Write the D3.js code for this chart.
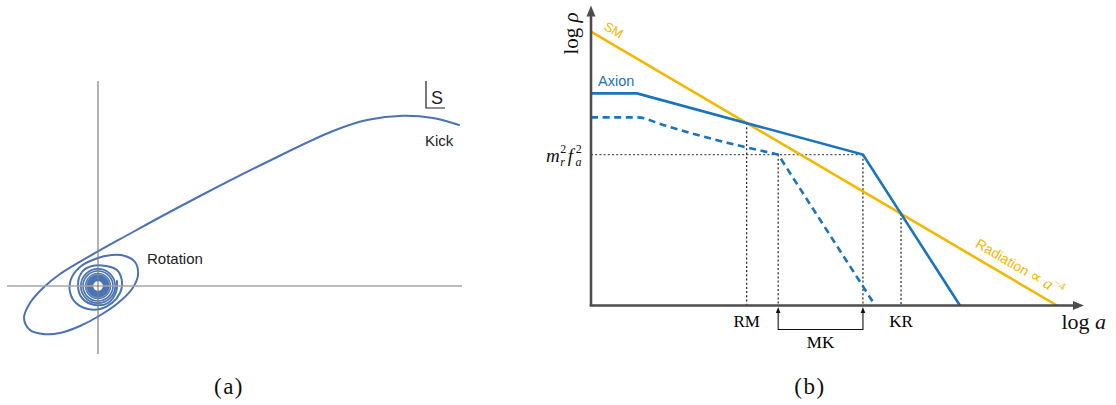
<!DOCTYPE html>
<html>
<head>
<meta charset="utf-8">
<script src="https://cdn.jsdelivr.net/npm/d3@7"></script>
<style>
  body { margin: 0; background: #fff; }
  svg { display: block; }
</style>
</head>
<body>
<svg id="fig" width="1116" height="405"></svg>
<script>
// ---------- (a) field trajectory in the complex plane ----------
// points of the trajectory (Re, Im), from the kick down into the spiral
const trajectory = [
  [36.1, 16.1], [33.5, 16.8], [30.5, 17.03], [26.9, 16.6], [23.5, 15.5],
  [16.9, 12.4], [10.2, 9.0], [3.5, 5.4],
  [-3.8, 1.2], [-5.5, -0.2], [-6.8, -1.7], [-7.4, -3.2], [-6.8, -4.4],
  [-5.5, -4.8], [-3.8, -4.7], [-1.8, -4.0], [0.1, -3.0], [2.0, -1.7],
  [3.4, -0.3], [4.0, 1.1], [3.7, 2.4], [2.7, 3.0], [1.4, 3.1],
  [-0.3, 2.7], [-1.8, 1.9], [-2.7, 0.7], [-2.8, -0.6], [-2.2, -1.7],
  [-1.0, -2.3], [0.2, -2.3], [1.4, -1.7], [2.2, -0.7], [2.4, 0.4],
  [1.9, 1.6], [0.8, 2.0], [-0.6, 2.0], [-1.6, 1.4], [-2.0, 0.1],
  [-1.6, -1.2], [-0.3, -1.9], [1.0, -1.7], [1.8, -0.6], [1.9, 0.5]
];
// tight late-time orbits around the minimum
const innerRings = [1.72, 1.5];
const coreDisc = [0.48, 1.32];   // inner / outer radius of the dense core
const coreGap = 1.18;            // faint gap between the last resolved orbits
const labelsA = ["Rotation", "Kick", "S"];
const captions = ["(a)", "(b)"];

// ---------- (b) energy densities vs scale factor (log-log) ----------
const smRadiation = [[0, 9.13], [9.51, 0]];
const axionKick = [[0, 7.07], [0.94, 7.07], [5.55, 5.03], [7.53, 0]];
const axionStandard = [[0, 6.27], [0.95, 6.27], [1.47, 6.02], [2.16, 5.69],
                       [2.84, 5.4], [3.18, 5.27], [3.82, 5.03]];
const axionStandardDrop = [[3.82, 5.03], [5.80, 0]];
const mrfaLevel = 5.03;
const eraLabels = ["RM", "MK", "KR"];

const svg = d3.select("#fig");
const serif = "'Liberation Serif', 'Times New Roman', 'DejaVu Serif', serif";
const sans = "'Liberation Sans', Arial, Helvetica, sans-serif";

// ===== panel (a) =====
const xA = d3.scaleLinear().domain([-9.1, 36.4]).range([7, 462]);
const yA = d3.scaleLinear().domain([-6.8, 20.5]).range([354, 81]);
const gA = svg.append("g");
const curveBlue = "#4a72b4";
const unitA = xA(1) - xA(0);

gA.append("circle")
  .attr("cx", xA(0)).attr("cy", yA(0))
  .attr("r", unitA * (coreDisc[0] + coreDisc[1]) / 2)
  .attr("fill", "none").attr("stroke", curveBlue)
  .attr("stroke-width", unitA * (coreDisc[1] - coreDisc[0]));
gA.append("circle")
  .attr("cx", xA(0)).attr("cy", yA(0)).attr("r", unitA * coreGap)
  .attr("fill", "none").attr("stroke", "#fff").attr("stroke-opacity", 0.5)
  .attr("stroke-width", 0.6);
gA.selectAll("circle.ring").data(innerRings).join("circle")
  .attr("class", "ring")
  .attr("cx", xA(0)).attr("cy", yA(0))
  .attr("r", d => unitA * d)
  .attr("fill", "none").attr("stroke", curveBlue).attr("stroke-width", 1.7);

gA.append("path")
  .attr("d", d3.line().x(d => xA(d[0])).y(d => yA(d[1]))
    .curve(d3.curveCatmullRom.alpha(0.5))(trajectory))
  .attr("fill", "none").attr("stroke", curveBlue).attr("stroke-width", 2)
  .attr("stroke-linejoin", "round").attr("stroke-linecap", "round");

// coordinate axes, drawn over the trajectory
gA.append("line")
  .attr("x1", xA(-9.1)).attr("x2", xA(36.4))
  .attr("y1", yA(0)).attr("y2", yA(0))
  .attr("stroke", "#a6a6a6").attr("stroke-width", 1.6);
gA.append("line")
  .attr("x1", xA(0)).attr("x2", xA(0))
  .attr("y1", yA(-6.8)).attr("y2", yA(20.5))
  .attr("stroke", "#7f7f7f").attr("stroke-width", 1.2);

gA.append("text").attr("x", xA(4.9)).attr("y", yA(2.2))
  .attr("font-family", sans).attr("font-size", 15).attr("fill", "#222")
  .text(labelsA[0]);
gA.append("text").attr("x", xA(32.7)).attr("y", yA(14.0))
  .attr("font-family", sans).attr("font-size", 15).attr("fill", "#222")
  .text(labelsA[1]);
// little "S" corner marker
gA.append("path")
  .attr("d", `M${xA(32.8)},${yA(20.5)} V${yA(17.8)} H${xA(34.7)}`)
  .attr("fill", "none").attr("stroke", "#222").attr("stroke-width", 1.2);
gA.append("text").attr("x", xA(33.9)).attr("y", yA(18.2))
  .attr("text-anchor", "middle")
  .attr("font-family", sans).attr("font-size", 18).attr("fill", "#222")
  .text(labelsA[2]);

// ===== panel (b) =====
const xB = d3.scaleLinear().domain([0, 10]).range([591, 1081]);
const yB = d3.scaleLinear().domain([0, 10]).range([305.5, 5.5]);
const gB = svg.append("g");
const orange = "#f5b700";
const blue = "#1a74bb";
const lineB = d3.line().x(d => xB(d[0])).y(d => yB(d[1]));

function intersect(p1, p2, q1, q2) {
  const d = (p2[0] - p1[0]) * (q2[1] - q1[1]) - (p2[1] - p1[1]) * (q2[0] - q1[0]);
  const t = ((q1[0] - p1[0]) * (q2[1] - q1[1]) - (q1[1] - p1[1]) * (q2[0] - q1[0])) / d;
  return [p1[0] + t * (p2[0] - p1[0]), p1[1] + t * (p2[1] - p1[1])];
}
const rm = intersect(smRadiation[0], smRadiation[1], axionKick[1], axionKick[2]);
const kr = intersect(smRadiation[0], smRadiation[1], axionKick[2], axionKick[3]);
const mkStart = axionStandard[axionStandard.length - 1][0];
const mkEnd = axionKick[2][0];

// dotted guides
const dotted = (x1, y1, x2, y2, c) => gB.append("line")
  .attr("x1", xB(x1)).attr("y1", yB(y1)).attr("x2", xB(x2)).attr("y2", yB(y2))
  .attr("stroke", c || "#222").attr("stroke-width", 1.2)
  .attr("stroke-dasharray", "2,2.2");
dotted(0, mrfaLevel, mkEnd, mrfaLevel, "#555");
dotted(rm[0], rm[1], rm[0], 0);
dotted(mkStart, mrfaLevel, mkStart, 0);
dotted(mkEnd, mrfaLevel, mkEnd, 0);
dotted(kr[0], kr[1], kr[0], 0);

// curves
gB.append("path").attr("d", lineB(smRadiation))
  .attr("fill", "none").attr("stroke", orange).attr("stroke-width", 2.6);
gB.append("path").attr("d", lineB(axionKick))
  .attr("fill", "none").attr("stroke", blue).attr("stroke-width", 2.6)
  .attr("stroke-linejoin", "miter");
gB.append("path").attr("d", lineB.curve(d3.curveMonotoneX)(axionStandard)
    + lineB.curve(d3.curveLinear)(axionStandardDrop).replace(/^M[^L]*/, ""))
  .attr("fill", "none").attr("stroke", blue).attr("stroke-width", 2.6)
  .attr("stroke-dasharray", "7,4.6");

// axes with arrowheads
const axisCol = "#4d4d4d";
gB.append("line").attr("x1", xB(0)).attr("y1", yB(0)).attr("x2", xB(0)).attr("y2", yB(9.7))
  .attr("stroke", axisCol).attr("stroke-width", 2.6);
gB.append("line").attr("x1", xB(0) - 1.3).attr("y1", yB(0)).attr("x2", xB(9.9)).attr("y2", yB(0))
  .attr("stroke", axisCol).attr("stroke-width", 2.6);
gB.append("path")
  .attr("d", `M${xB(0)},${yB(10)} l-4.5,11 h9 z`).attr("fill", axisCol);
gB.append("path")
  .attr("d", `M${xB(10.06)},${yB(0)} l-11,-4.5 v9 z`).attr("fill", axisCol);

// axis titles
const yTitle = gB.append("text")
  .attr("transform", `translate(${xB(0) - 13},${yB(9.07)}) rotate(-90)`)
  .attr("text-anchor", "middle").attr("font-family", serif).attr("font-size", 21)
  .attr("fill", "#111");
yTitle.append("tspan").text("log ");
yTitle.append("tspan").attr("font-style", "italic").text("ρ");
const xTitle = gB.append("text")
  .attr("x", xB(9.6)).attr("y", yB(0) + 23)
  .attr("font-family", serif).attr("font-size", 22).attr("fill", "#111");
xTitle.append("tspan").text("log ");
xTitle.append("tspan").attr("font-style", "italic").text("a");

// m_r^2 f_a^2 label, sub- and superscripts stacked
const mLabel = gB.append("text")
  .attr("x", xB(0) - 45).attr("y", yB(mrfaLevel) + 7)
  .attr("font-family", serif).attr("font-size", 19).attr("fill", "#111");
mLabel.append("tspan").attr("font-style", "italic").text("m");
mLabel.append("tspan").attr("font-style", "italic").attr("font-size", 12)
  .attr("dx", 0.5).attr("dy", 4.5).text("r");
mLabel.append("tspan").attr("font-size", 12).attr("dx", -4.7).attr("dy", -13).text("2");
mLabel.append("tspan").attr("font-style", "italic").attr("dx", 1.5).attr("dy", 8.5).text("f");
mLabel.append("tspan").attr("font-style", "italic").attr("font-size", 12)
  .attr("dx", 2.5).attr("dy", 4.5).text("a");
mLabel.append("tspan").attr("font-size", 12).attr("dx", -5.8).attr("dy", -13).text("2");

// era labels
const eraFont = 17;
gB.append("text").attr("x", xB(rm[0])).attr("y", yB(0) + 21)
  .attr("text-anchor", "middle").attr("font-family", serif).attr("font-size", eraFont)
  .text(eraLabels[0]);
gB.append("text").attr("x", xB(kr[0])).attr("y", yB(0) + 21)
  .attr("text-anchor", "middle").attr("font-family", serif).attr("font-size", eraFont)
  .text(eraLabels[2]);
gB.append("text").attr("x", (xB(mkStart) + xB(mkEnd)) / 2).attr("y", yB(0) + 42)
  .attr("text-anchor", "middle").attr("font-family", serif).attr("font-size", eraFont)
  .text(eraLabels[1]);

// MK bracket with upward arrows
const by = yB(0) + 24;
gB.append("path")
  .attr("d", `M${xB(mkStart)},${yB(0) + 5} V${by} H${xB(mkEnd)} V${yB(0) + 5}`)
  .attr("fill", "none").attr("stroke", "#111").attr("stroke-width", 1.1);
[mkStart, mkEnd].forEach(v => {
  gB.append("path")
    .attr("d", `M${xB(v)},${yB(0) + 1.5} l-2.3,6 h4.6 z`).attr("fill", "#111");
});

// line labels
const ang = Math.atan2(yB(smRadiation[1][1]) - yB(smRadiation[0][1]),
                       xB(smRadiation[1][0]) - xB(smRadiation[0][0]));
const angDeg = ang * 180 / Math.PI;
const smAt = v => [xB(v), yB(smRadiation[0][1] + (smRadiation[1][1] - smRadiation[0][1]) * v / smRadiation[1][0])];
function alongSM(v, off) {
  const p = smAt(v);
  return [p[0] + off * Math.sin(ang), p[1] - off * Math.cos(ang)];
}
const smPos = alongSM(0.33, 13);
gB.append("text")
  .attr("transform", `translate(${smPos[0]},${smPos[1]}) rotate(${angDeg})`)
  .attr("text-anchor", "middle").attr("dy", "0.35em")
  .attr("font-family", sans).attr("font-size", 13).attr("fill", orange)
  .text("SM");
const radPos = alongSM(8.6, 14);
const rad = gB.append("text")
  .attr("transform", `translate(${radPos[0]},${radPos[1]}) rotate(${angDeg})`)
  .attr("text-anchor", "middle").attr("dy", "0.35em")
  .attr("font-family", sans).attr("font-size", 14).attr("fill", orange);
rad.append("tspan").text("Radiation ");
rad.append("tspan").attr("font-family", "'DejaVu Sans', sans-serif").attr("font-size", 16).text("∝");
rad.append("tspan").attr("font-family", serif).attr("font-style", "italic").attr("font-size", 17)
  .attr("dx", 4).text("a");
rad.append("tspan").attr("font-family", serif).attr("font-size", 11).attr("dy", -7).text("−4");

gB.append("text").attr("x", xB(0) + 7).attr("y", yB(axionKick[0][1]) - 7)
  .attr("font-family", sans).attr("font-size", 14.5).attr("fill", blue)
  .text("Axion");

// captions
svg.selectAll("text.cap").data(captions).join("text")
  .attr("class", "cap")
  .attr("x", (d, i) => i === 0 ? 229 : 810).attr("y", 394)
  .attr("text-anchor", "middle").attr("font-family", serif).attr("font-size", 23)
  .attr("letter-spacing", 1.5).attr("fill", "#111")
  .text(d => d);
</script>
</body>
</html>
